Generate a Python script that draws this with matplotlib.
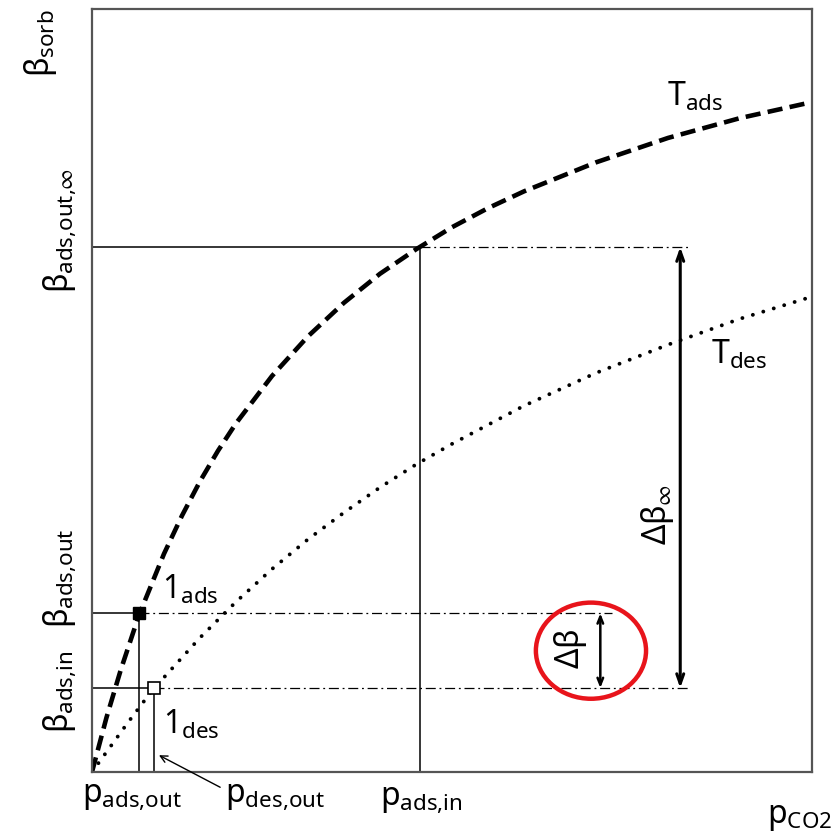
import matplotlib.pyplot as plt
from matplotlib.patches import Ellipse

plt.rcParams['mathtext.fontset'] = 'custom'
plt.rcParams['mathtext.rm'] = 'Noto Sans'
plt.rcParams['mathtext.it'] = 'Noto Sans'
plt.rcParams['mathtext.bf'] = 'Noto Sans'
plt.rcParams['mathtext.fallback'] = 'stixsans'

# isotherm at adsorption temperature
x_ads = [0, 2, 4, 6.5, 10, 12.5, 15, 17.5, 20, 25, 30, 35, 40, 45, 50, 55, 60, 70, 80, 90, 100]
y_ads = [0, 7.1, 13.4, 20.5, 28.6, 33.6, 38.1, 42.1, 45.7, 51.9, 57.1, 61.5, 65.3, 68.5, 71.4, 73.9,
         76.1, 79.9, 83.1, 85.7, 87.8]

# isotherm at desorption temperature
x_des = [0, 5, 8.6, 10, 15, 20, 25, 30, 35, 40, 45, 50, 60, 70, 80, 90, 100]
y_des = [0, 6.5, 11.0, 12.4, 17.6, 22.3, 26.6, 30.5, 34.0, 37.3, 40.3, 43.0, 48.0, 52.3, 56.0, 59.4, 62.3]

# characteristic states
p_ads_out, p_des_out, p_ads_in = 6.5, 8.6, 45.6
b_ads_in, b_ads_out, b_ads_out_inf = 11.0, 20.8, 68.8

fig = plt.figure(figsize=(8.4, 8.35), dpi=100)
ax = fig.add_axes([92/840, 1 - 772/835, 720/840, 763/835])
ax.set_xlim(0, 100)
ax.set_ylim(0, 100)
ax.set_xticks([])
ax.set_yticks([])
for s in ax.spines.values():
    s.set_color('#555555')
    s.set_linewidth(1.6)

ax.plot(x_ads, y_ads, color='black', lw=3.3, linestyle=(0, (3.3, 1.6)), solid_joinstyle='round')
ax.plot(x_des, y_des, color='black', lw=2.8, linestyle=(0, (0.01, 2.8)), dash_capstyle='round')

thin = dict(color='black', lw=1.1)
# solid helper lines
ax.plot([0, p_ads_in], [b_ads_out_inf, b_ads_out_inf], **thin)
ax.plot([p_ads_in, p_ads_in], [0, b_ads_out_inf], **thin)
ax.plot([0, p_ads_out], [b_ads_out, b_ads_out], **thin)
ax.plot([p_ads_out, p_ads_out], [0, b_ads_out], **thin)
ax.plot([0, p_des_out], [b_ads_in, b_ads_in], **thin)
ax.plot([p_des_out, p_des_out], [0, b_ads_in], **thin)

# dash-dot extensions
dd = dict(color='black', lw=0.9, linestyle=(0, (8, 3, 1.5, 3)))
ax.plot([p_ads_in, 83], [b_ads_out_inf, b_ads_out_inf], **dd)
ax.plot([p_ads_out, 72.2], [b_ads_out, b_ads_out], **dd)
ax.plot([p_des_out, 83], [b_ads_in, b_ads_in], **dd)

# states 1_ads and 1_des
ax.plot([p_ads_out], [b_ads_out], marker='s', ms=8, color='black', zorder=5)
ax.plot([p_des_out], [b_ads_in], marker='s', ms=9, mfc='white', mec='black', mew=1.2, zorder=5)

# working capacity arrows
ax.annotate('', xy=(81.7, b_ads_out_inf), xytext=(81.7, b_ads_in),
            arrowprops=dict(arrowstyle='<->,head_length=0.7,head_width=0.25', lw=2.2, color='black',
                            shrinkA=0, shrinkB=0))
ax.annotate('', xy=(70.6, b_ads_out), xytext=(70.6, b_ads_in),
            arrowprops=dict(arrowstyle='<->,head_length=0.5,head_width=0.2', lw=1.8, color='black',
                            shrinkA=0, shrinkB=0))
ax.annotate('', xy=(9.3, 2.2), xytext=(17.8, -2.0),
            arrowprops=dict(arrowstyle='->,head_length=0.5,head_width=0.25', lw=1.0, color='black',
                            shrinkA=0, shrinkB=0), annotation_clip=False)

ax.add_patch(Ellipse((69.3, 15.9), 15.3, 12.6, fill=False, edgecolor='#e8141b', lw=3.2, zorder=6))

fs = 23
kw = dict(fontsize=fs, ha='center', va='center', clip_on=False)
ax.text(-7.1, 95.5, r'$\beta_{\mathrm{sorb}}$', rotation=90, **kw)
ax.text(-4.4, 71.0, r'$\beta_{\mathrm{ads{,}out{,}\infty}}$', rotation=90, **kw)
ax.text(-4.4, 25.4, r'$\beta_{\mathrm{ads{,}out}}$', rotation=90, **kw)
ax.text(-4.4, 10.5, r'$\beta_{\mathrm{ads{,}in}}$', rotation=90, **kw)
ax.text(5.6, -3.3, r'$\mathrm{p}_{\mathrm{ads{,}out}}$', **kw)
ax.text(25.4, -3.3, r'$\mathrm{p}_{\mathrm{des{,}out}}$', **kw)
ax.text(45.7, -3.7, r'$\mathrm{p}_{\mathrm{ads{,}in}}$', **kw)
ax.text(98.3, -5.9, r'$\mathrm{p}_{\mathrm{CO2}}$', **kw)
ax.text(83.8, 88.5, r'$\mathrm{T}_{\mathrm{ads}}$', **kw)
ax.text(89.9, 54.8, r'$\mathrm{T}_{\mathrm{des}}$', **kw)
ax.text(13.6, 23.9, r'$\mathrm{1}_{\mathrm{ads}}$', **kw)
ax.text(13.75, 6.3, r'$\mathrm{1}_{\mathrm{des}}$', **kw)
ax.text(78.5, 33.7, r'$\Delta\beta_{\infty}$', rotation=90, **kw)
ax.text(66.5, 16.1, r'$\Delta\beta$', rotation=90, **kw)

fig.savefig('out.png', dpi=100)
